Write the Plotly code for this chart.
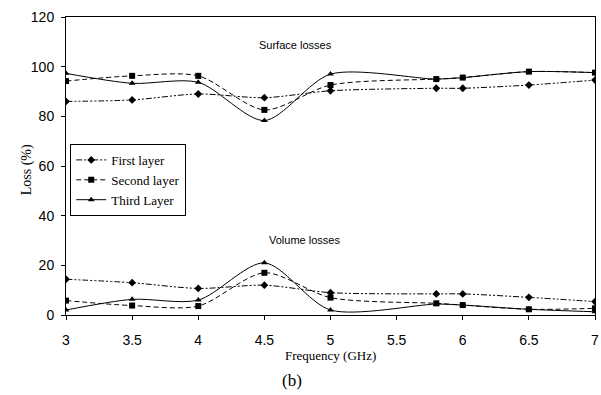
import plotly.graph_objects as go

freq = [3, 3.5, 4, 4.5, 5, 5.8, 6, 6.5, 7]

surf_first = [86, 86.6, 89, 87.5, 90.3, 91.3, 91.3, 92.6, 94.6]
surf_second = [94.2, 96.3, 96.3, 82.6, 92.6, 95, 95.6, 98, 97.6]
surf_third = [97.3, 93.3, 93.7, 78.3, 97, 95, 95.6, 98, 97.6]

vol_first = [14.4, 13, 10.7, 12, 9, 8.5, 8.5, 7.1, 5.4]
vol_second = [5.8, 3.8, 3.6, 17, 7, 4.7, 4, 2.3, 2.7]
vol_third = [2, 6.3, 6, 21, 2, 4.4, 4, 2.3, 1.3]

names = ["First layer", "Second layer", "Third Layer"]
dashes = ["6px,2px,2px,2px,2px,2px", "5px,3px", "solid"]
symbols = ["diamond", "square", "triangle-up"]

fig = go.Figure()
series = [(surf_first, vol_first), (surf_second, vol_second), (surf_third, vol_third)]
for i, (s, v) in enumerate(series):
    for j, ys in enumerate([s, v]):
        fig.add_trace(go.Scatter(
            x=freq, y=ys, mode="lines+markers", name=names[i],
            showlegend=(j == 0), legendgroup=names[i],
            line=dict(color="black", width=1, dash=dashes[i], shape="spline", smoothing=0.8),
            marker=dict(symbol=symbols[i], size=6, color="black"),
        ))

fig.update_layout(
    width=601, height=395,
    margin=dict(l=66, r=2, t=17, b=80),
    paper_bgcolor="white", plot_bgcolor="white",
    showlegend=True,
    legend=dict(x=0.008, y=0.574, xanchor="left", yanchor="top",
                bordercolor="black", borderwidth=1, bgcolor="white",
                font=dict(family="Liberation Serif", size=13, color="black"),
                tracegroupgap=0, itemwidth=30),
    font=dict(family="Liberation Sans", color="black"),
)
fig.update_xaxes(range=[3, 7], dtick=0.5, tick0=3, showgrid=False, zeroline=False,
                 showline=True, linecolor="black", linewidth=1, mirror=True,
                 ticks="outside", ticklen=4, tickcolor="black", ticklabeloverflow="allow",
                 ticklabelstandoff=8,
                 tickfont=dict(family="Liberation Sans", size=14, color="black"))
fig.update_yaxes(range=[0, 120], dtick=20, showgrid=False, zeroline=False,
                 showline=True, linecolor="black", linewidth=1, mirror=True,
                 ticks="outside", ticklen=4, tickcolor="black",
                 ticklabelstandoff=4,
                 tickfont=dict(family="Liberation Sans", size=14, color="black"))

ann = [
    ("Surface losses", 297, 45, "Liberation Sans", 11, 0),
    ("Volume losses", 306, 240, "Liberation Sans", 11, 0),
    ("Frequency (GHz)", 332, 355, "Liberation Serif", 13, 0),
    ("Loss (%)", 27, 170, "Liberation Serif", 14, -90),
    ("(b)", 294, 380, "Liberation Serif", 17, 0),
]
pw, ph = 601 - 66 - 2, 395 - 17 - 80
for text, px, py, fam, sz, ang in ann:
    fig.add_annotation(x=(px - 66) / pw, y=(315 - py) / ph, xref="paper", yref="paper",
                       text=text, showarrow=False, textangle=ang,
                       xanchor="center", yanchor="middle",
                       font=dict(family=fam, size=sz, color="black"))

fig.write_html("out.html")
